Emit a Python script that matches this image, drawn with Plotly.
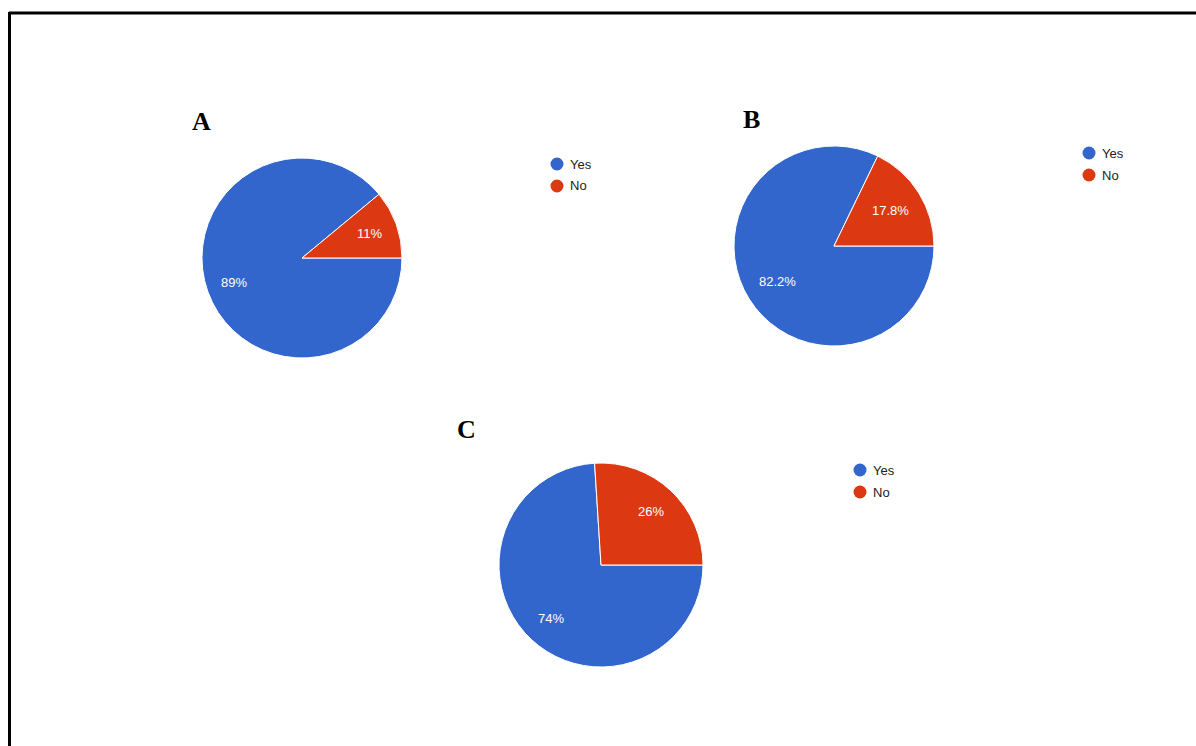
import math
import plotly.graph_objects as go

W, H = 1196, 746

# Survey answers for the three questions (percent of respondents)
categories = ["Yes", "No"]
panel_names = ["A", "B", "C"]
yes_values = [89, 82.2, 74]
no_values = [11, 17.8, 26]

colors = {"Yes": "#3366CC", "No": "#DC3912"}

# layout of each panel in pixels: pie centre, radius, label distance,
# letter and legend anchors
panels = [
    dict(cx=302, cy=258, r=100, lab=0.72, letter=(201, 121), legend=(557, 164)),
    dict(cx=834, cy=246, r=100, lab=0.67, letter=(751, 119), legend=(1089, 153)),
    dict(cx=601, cy=565, r=102, lab=0.72, letter=(466, 429), legend=(860, 470)),
]


def px_x(x):
    return x / W


def px_y(y):
    return 1 - y / H


fig = go.Figure()
shapes = []
annotations = []

for name, yes, no, p in zip(panel_names, yes_values, no_values, panels):
    vals = {"Yes": yes, "No": no}
    order = ["Yes", "No"]
    fig.add_trace(go.Pie(
        labels=order,
        values=[vals[c] for c in order],
        textinfo="none",
        marker=dict(colors=[colors[c] for c in order], line=dict(color="white", width=1)),
        sort=False,
        direction="clockwise",
        rotation=90,
        showlegend=False,
        hoverinfo="label+percent",
        domain=dict(
            x=[px_x(p["cx"] - p["r"]), px_x(p["cx"] + p["r"])],
            y=[px_y(p["cy"] + p["r"]), px_y(p["cy"] - p["r"])],
        ),
    ))

    # percentage labels at the middle angle of each slice
    # (No runs counter-clockwise from 3 o'clock, Yes fills the rest)
    total = yes + no
    no_span = 360 * no / total
    mids = {"No": no_span / 2, "Yes": (no_span + 360) / 2}
    for cat in categories:
        ang = math.radians(mids[cat])
        rr = p["r"] * p["lab"]
        annotations.append(dict(
            x=px_x(p["cx"] + rr * math.cos(ang)),
            y=px_y(p["cy"] - rr * math.sin(ang)),
            xref="paper", yref="paper",
            text=f"{vals[cat]:g}%", showarrow=False,
            font=dict(family="Liberation Sans, Arial", size=13, color="white"),
            xanchor="center", yanchor="middle",
        ))

    lx, ly = p["letter"]
    annotations.append(dict(
        x=px_x(lx), y=px_y(ly), xref="paper", yref="paper",
        text=f"<b>{name}</b>", showarrow=False,
        font=dict(family="Liberation Serif, Times New Roman", size=26, color="black"),
        xanchor="center", yanchor="middle",
    ))

    gx, gy = p["legend"]
    for i, cat in enumerate(categories):
        yy = gy + i * 22
        shapes.append(dict(
            type="circle", xref="paper", yref="paper",
            x0=px_x(gx - 6.5), x1=px_x(gx + 6.5),
            y0=px_y(yy + 6.5), y1=px_y(yy - 6.5),
            fillcolor=colors[cat], line=dict(width=0),
        ))
        annotations.append(dict(
            x=px_x(gx + 11), y=px_y(yy), xref="paper", yref="paper",
            text=cat, showarrow=False,
            font=dict(family="Liberation Sans, Arial", size=13, color="#222222"),
            xanchor="left", yanchor="middle",
        ))

# frame lines along the top and left edges
shapes.append(dict(type="line", xref="paper", yref="paper",
                   x0=px_x(9), x1=1, y0=px_y(13), y1=px_y(13),
                   line=dict(color="black", width=3)))
shapes.append(dict(type="line", xref="paper", yref="paper",
                   x0=px_x(9.5), x1=px_x(9.5), y0=0, y1=px_y(12),
                   line=dict(color="black", width=3)))

fig.update_layout(
    width=W, height=H,
    margin=dict(l=0, r=0, t=0, b=0),
    paper_bgcolor="white",
    plot_bgcolor="white",
    shapes=shapes,
    annotations=annotations,
)

fig.write_html("out.html")
